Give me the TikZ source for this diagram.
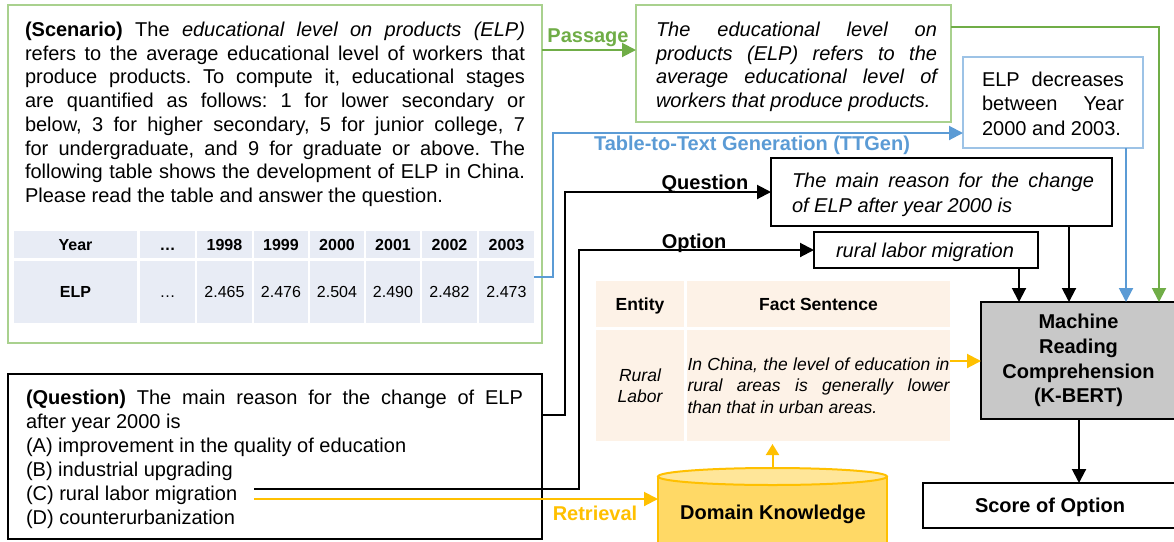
\documentclass[tikz,border=0pt]{standalone}
\usepackage{fontspec}
\setmainfont{Liberation Sans}
\usetikzlibrary{arrows.meta,calc}
\definecolor{bordgreen}{RGB}{169,209,142}
\definecolor{arrgreen}{RGB}{112,173,71}
\definecolor{bordblue}{RGB}{157,195,230}
\definecolor{arrblue}{RGB}{91,155,213}
\definecolor{kyellow}{RGB}{255,192,0}
\definecolor{cylfill}{RGB}{255,217,102}
\definecolor{cyltop}{RGB}{255,230,153}
\definecolor{tblue}{RGB}{232,236,245}
\definecolor{tpeach}{RGB}{253,242,231}
\definecolor{mrcgray}{RGB}{200,200,200}
\newcommand{\fsz}[2]{\fontsize{#1}{#2}\selectfont\frenchspacing\hyphenpenalty=10000\exhyphenpenalty=10000\tolerance=10000}
\begin{document}
\begin{tikzpicture}[x=1pt,y=-1pt,
  every node/.style={inner sep=0pt, outer sep=0pt},
  box/.style={draw, line width=2pt, anchor=north west},
  arr/.style={line width=2pt, -{Triangle[length=14pt,width=14pt]}},
  jtxt/.style={anchor=north west, align=justify},
  cell/.style={fill=tblue, text height=11.5pt, text depth=0pt, font=\fsz{16}{18}},
  kcell/.style={fill=tpeach, anchor=north west},
  lbl/.style={anchor=base, font=\fsz{20}{24}\bfseries},
]
\useasboundingbox (0,0) rectangle (1174,541);

% ---------- Scenario box ----------
\node[box, draw=bordgreen, minimum width=534pt, minimum height=338pt] (scen) at (8,5) {};
\node[jtxt, text width=500pt, font=\fsz{20}{23.75}] (scentxt) at (25,22)
{{\bfseries (Scenario)} The {\itshape educational level on products (ELP)}\linebreak
refers to the average educational level of workers that\linebreak
produce products. To compute it, educational stages\linebreak
are quantified as follows: 1 for lower secondary or\linebreak
below, 3 for higher secondary, 5 for junior college, 7\linebreak
for undergraduate, and 9 for graduate or above. The\linebreak
following table shows the development of ELP in China.\linebreak
Please read the table and answer the question.};

% table
\foreach \a/\b/\h/\d [count=\n] in {
  14/137/{\bfseries Year}/{\bfseries ELP},
  140/195/{\bfseries\ldots}/{\ldots},
  197/252/{\bfseries 1998}/{2.465},
  254/308/{\bfseries 1999}/{2.476},
  310/364/{\bfseries 2000}/{2.504},
  366/420/{\bfseries 2001}/{2.490},
  422/477/{\bfseries 2002}/{2.482},
  479/534/{\bfseries 2003}/{2.473}}
{
  \node[cell, minimum width=\b-\a, minimum height=27pt] (th\n) at ({(\a+\b)/2},244.5) {\h};
  \node[cell, minimum width=\b-\a, minimum height=62pt] (td\n) at ({(\a+\b)/2},292) {\d};
}

% ---------- Question box ----------
\node[box, minimum width=534pt, minimum height=165pt] (qbox) at (8,374) {};
\node[jtxt, text width=497pt, font=\fsz{20}{24}] (qboxtxt) at (26,390)
{{\bfseries (Question)} The main reason for the change of ELP\linebreak
after year 2000 is\newline
(A) improvement in the quality of education\newline
(B) industrial upgrading\newline
(C) rural labor migration\newline
(D) counterurbanization};

% ---------- Passage ----------
\node[box, draw=bordgreen, minimum width=315pt, minimum height=117pt] (pas) at (636,5) {};
\node[jtxt, text width=281pt, font=\fsz{20}{23.75}\itshape] (pastxt) at (656,22)
{The educational level on\linebreak
products (ELP) refers to the\linebreak
average educational level of\linebreak
workers that produce products.};
\node[lbl, text=arrgreen] (paslbl) at (588,42) {Passage};
\coordinate (py) at (0,50);
\draw[arr, arrgreen] (scen.east |- py) -- (pas.west |- py);

% ---------- ELP decreases ----------
\node[box, draw=bordblue, minimum width=180pt, minimum height=91pt] (elp) at (963,57) {};
\node[jtxt, text width=142pt, font=\fsz{20}{24.5}] (elptxt) at (982,72)
{ELP decreases\linebreak between Year\linebreak 2000 and 2003.};
\node[lbl, text=arrblue] (ttlbl) at (752,150.5) {Table-to-Text Generation (TTGen)};
\coordinate (tt1) at (534,277);
\coordinate (tty) at (0,133);
\coordinate (ttx) at (553,0);
\draw[arr, arrblue] (tt1) -- (tt1 -| ttx) |- (elp.west |- tty);

% ---------- Question text ----------
\node[box, minimum width=341pt, minimum height=68pt] (qtx) at (771,158) {};
\node[jtxt, text width=302pt, font=\fsz{20}{25}\itshape] (qtxtxt) at (792,173)
{The main reason for the change\linebreak of ELP after year 2000 is};
\node[lbl] (qlbl) at (705,189) {Question};
\coordinate (q1) at (0,415);
\coordinate (q2) at (0,192);
\coordinate (qx) at (565,0);
\draw[arr] (qbox.east |- q1) -- (q1 -| qx) |- (qtx.west |- q2);

% ---------- Option ----------
\node[box, minimum width=224pt, minimum height=36pt] (opt) at (814,232) {};
\node[anchor=base, font=\fsz{20}{24}\itshape] (opttxt) at (925,257) {rural labor migration};
\node[lbl] (optlbl) at (694,248) {Option};
\coordinate (c1) at (254,489);
\coordinate (ox) at (579,0);
\draw[arr] (c1) -- (c1 -| ox) |- (opt.west);

% ---------- Knowledge table ----------
\node[kcell, minimum width=88pt, minimum height=46pt, font=\fsz{17.5}{21}\bfseries, text height=12.5pt, text depth=0pt] (keh) at (596,281) {Entity};
\node[kcell, minimum width=263pt, minimum height=46pt, font=\fsz{17.5}{21}\bfseries, text height=12.5pt, text depth=0pt] (kfh) at (687,281) {Fact Sentence};
\node[kcell, minimum width=88pt, minimum height=111pt, align=center, font=\fsz{17.5}{21}\itshape] (ked) at (596,330) {Rural\\Labor};
\node[kcell, minimum width=263pt, minimum height=111pt, text width=262pt, align=justify, font=\fsz{17.5}{21.5}\itshape] (kfd) at (687,330)
{In China, the level of education in\linebreak rural areas is generally lower\linebreak than that in urban areas.};

% ---------- Domain knowledge cylinder ----------
\fill[cylfill] (658,476.5) rectangle (887,560);
\draw[kyellow, line width=2pt] (658,476.5) -- (658,560) (887,476.5) -- (887,560);
\draw[kyellow, line width=2pt, fill=cyltop] (772.5,476.5) ellipse [x radius=114.5, y radius=8.5];
\node[anchor=north west, minimum width=229pt, minimum height=100pt] (cyl) at (658,468) {};
\node[lbl] (dktxt) at (773,519.5) {Domain Knowledge};
\coordinate (c2) at (254,499);
\draw[arr, kyellow] (c2) -- (c2 -| cyl.west);
\node[lbl, text=kyellow] (retlbl) at (595,520) {Retrieval};
\draw[kyellow, line width=2pt, -{Triangle[length=11pt,width=13pt]}, shorten >=3pt] (cyl.north) -- (kfd.south -| cyl.north);

% ---------- MRC ----------
\node[box, fill=mrcgray, minimum width=195pt, minimum height=117pt, align=center, font=\fsz{20}{24.7}\bfseries] (mrc) at (981,302)
{Machine\\Reading\\Comprehension\\(K-BERT)};
\coordinate (ky) at (0,361);
\draw[arr, kyellow] (kfd.east |- ky) -- (mrc.west |- ky);
\coordinate (a1) at (1019,0);
\coordinate (a2) at (1069,0);
\coordinate (a3) at (1126,0);
\coordinate (a4) at (1159,0);
\coordinate (gy) at (0,27);
\draw[arr] (opt.south -| a1) -- (mrc.north -| a1);
\draw[arr] (qtx.south -| a2) -- (mrc.north -| a2);
\draw[arr, arrblue] (elp.south -| a3) -- (mrc.north -| a3);
\draw[arr, arrgreen] (pas.east |- gy) -| (mrc.north -| a4);

% ---------- Score ----------
\node[box, minimum width=254pt, minimum height=45pt, font=\fsz{20}{24}\bfseries, text height=14.3pt, text depth=0pt] (score) at (923,483) {Score of Option};
\coordinate (sx) at (1079,0);
\draw[arr] (mrc.south -| sx) -- (score.north -| sx);
\end{tikzpicture}
\end{document}
